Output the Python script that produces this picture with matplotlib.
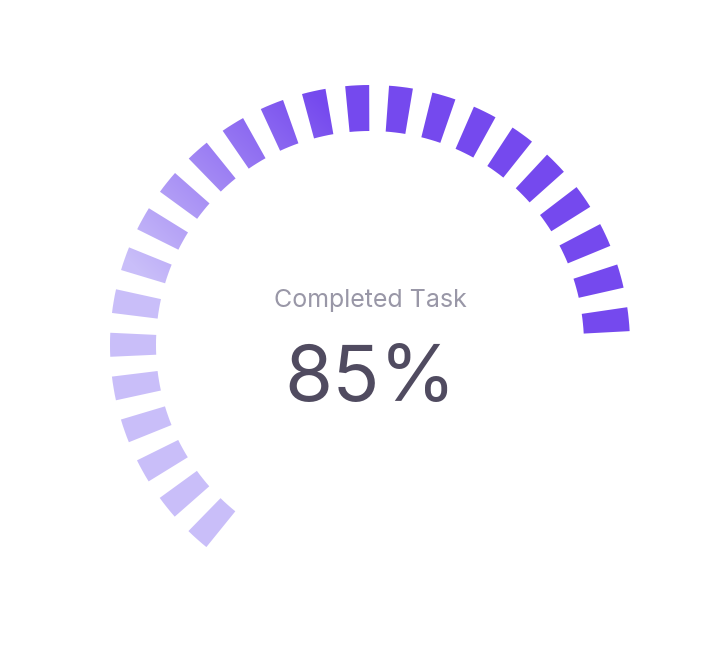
import numpy as np
import matplotlib.pyplot as plt
from matplotlib.patches import Wedge, PathPatch
from matplotlib.path import Path
from matplotlib.colors import to_rgb

# gauge data
value = 85                  # percent completed
label = 'Completed Task'
value_text = f'{value}%'
arc_start = -141.0          # degrees, clockwise from top
arc_sweep = 270.0
dash_period = 9.68          # degrees per dash + gap
dash_len = 5.3              # degrees per dash

light = np.array(to_rgb('#c9bef9'))
dark = np.array(to_rgb('#7549ee'))

W, H = 710, 666
cx, cy = 370, H - 345
r_out, width = 260, 46

fig = plt.figure(figsize=(W / 100, H / 100), dpi=100)
ax = fig.add_axes([0, 0, 1, 1])
ax.set_xlim(0, W)
ax.set_ylim(0, H)
ax.axis('off')

# dashes along the arc up to the value
arc_end = arc_start + arc_sweep * value / 100
paths = []
a = arc_start
while a + dash_len <= arc_end + 1e-6:
    w = Wedge((cx, cy), r_out, 90 - (a + dash_len), 90 - a, width=width)
    paths.append(w.get_path())
    a += dash_period
compound = Path.make_compound_path(*paths)
patch = PathPatch(compound, facecolor='none', edgecolor='none')
ax.add_patch(patch)

# diagonal gradient fill clipped to the dashes
xx, yy = np.meshgrid(np.arange(W) + 0.5, np.arange(H) + 0.5)
p = ((xx - cx) + (yy - cy)) / np.sqrt(2)
t = np.clip((p + 110) / 250, 0, 1)[..., None]
img = light * (1 - t) + dark * t
im = ax.imshow(img, extent=(0, W, 0, H), origin='lower', interpolation='bilinear')
im.set_clip_path(patch)

ax.text(cx, H - 301, label, ha='center', va='center', fontsize=18,
        family='Inter', color='#9997a7')
ax.text(cx, H - 380, value_text, ha='center', va='center', fontsize=56,
        family='Inter', color='#504b60')

fig.savefig('out.png', dpi=100)
